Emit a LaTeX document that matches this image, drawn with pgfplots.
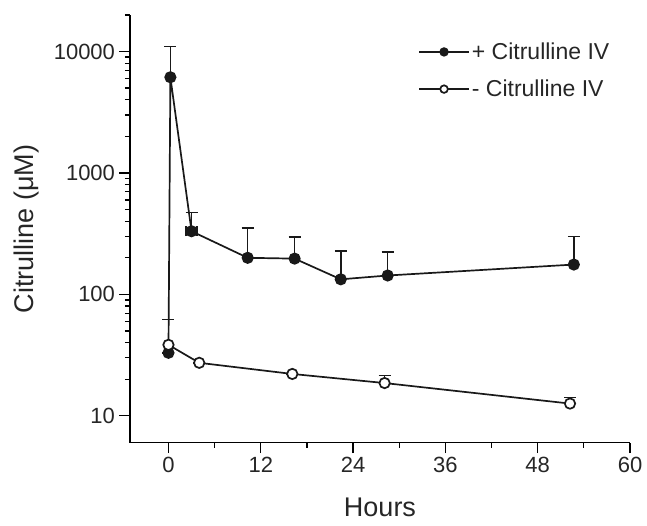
\documentclass[border=0pt]{standalone}
\usepackage{fontspec}
\setmainfont{Liberation Sans}
\usepackage{pgfplots}
\pgfplotsset{compat=1.18}
\begin{document}
\begin{tikzpicture}
\path[use as bounding box] (-130pt,-82.3pt) rectangle (517pt,442.7pt);
\begin{axis}[
  at={(0pt,0pt)}, anchor=south west,
  scale only axis, width=500pt, height=427.7pt,
  ymode=log, xmin=-5, xmax=60, ymin=6, ymax=20000,
  axis x line=bottom, axis y line=left,
  axis line style={-, line width=1.3pt},
  tick align=outside,
  major tick length=10.5pt, minor tick length=5pt,
  tick style={line width=1.3pt, black},
  xtick={0,12,24,36,48,60}, xticklabels={0,12,24,36,48,60},
  minor xtick={6,18,30,42,54},
  ytick={10,100,1000,10000}, yticklabels={10,100,1000,10000},
  minor ytick={20,30,40,50,60,70,80,90,200,300,400,500,600,700,800,900,2000,3000,4000,5000,6000,7000,8000,9000,20000},
  /pgf/number format/assume math mode=true,
  ticklabel style={font=\fontsize{22}{26}\selectfont, text=black!85},
  yticklabel style={xshift=-1pt},
  label style={font=\fontsize{27}{31}\selectfont, text=black!85},
  xlabel={Hours}, ylabel={Citrulline (μM)},
  xlabel style={at={(axis description cs:0.5,0)}, anchor=center, yshift=-65pt},
  ylabel style={at={(axis description cs:-0.206,0.5)}, anchor=center},
  legend style={at={(axis description cs:0.576,0.94)}, anchor=north west, draw=none, fill=none,
    font=\fontsize{23}{27}\selectfont, inner sep=0pt, row sep=15pt, text=black!85},
  legend cell align=left,
  legend image code/.code={\draw[#1, mark repeat=2, mark phase=2, mark size=3.8pt] plot coordinates {(0pt,0pt) (25pt,0pt) (50pt,0pt)};},
  clip=false,
]
\addplot[black!90, line width=1.7pt, mark=*, mark size=5.2pt,
  error bars/.cd, y dir=plus, y explicit,
  error bar style={line width=1.5pt},
  error mark options={line width=1.5pt, mark size=6pt, rotate=90}]
coordinates {
(0,33) +- (0,0)
(0.25,6140) +- (0,4860)
(3,331) +- (0,142)
(10.3,200) +- (0,153)
(16.4,197) +- (0,99)
(22.4,133) +- (0,95)
(28.5,143) +- (0,81)
(52.7,176) +- (0,125)
};
\addlegendentry{+ Citrulline IV}
\addplot[black!90, line width=1.7pt, mark=*, mark size=5.2pt, mark options={fill=white},
  error bars/.cd, y dir=plus, y explicit,
  error bar style={line width=1.5pt},
  error mark options={line width=1.5pt, mark size=6pt, rotate=90}]
coordinates {
(0,38.4) +- (0,23.6)
(4,27.3) +- (0,0)
(16.1,22.1) +- (0,0)
(28.1,18.6) +- (0,2.8)
(52.2,12.6) +- (0,1.5)
};
\addlegendentry{- Citrulline IV}
\addplot[forget plot, black!90, only marks, mark=*, mark size=5.2pt,
  error bars/.cd, x dir=both, x explicit,
  error bar style={line width=1.5pt},
  error mark options={line width=1.5pt, mark size=5pt, rotate=90}]
coordinates {(3,331) +- (0.7,0)};
\end{axis}
\end{tikzpicture}
\end{document}
